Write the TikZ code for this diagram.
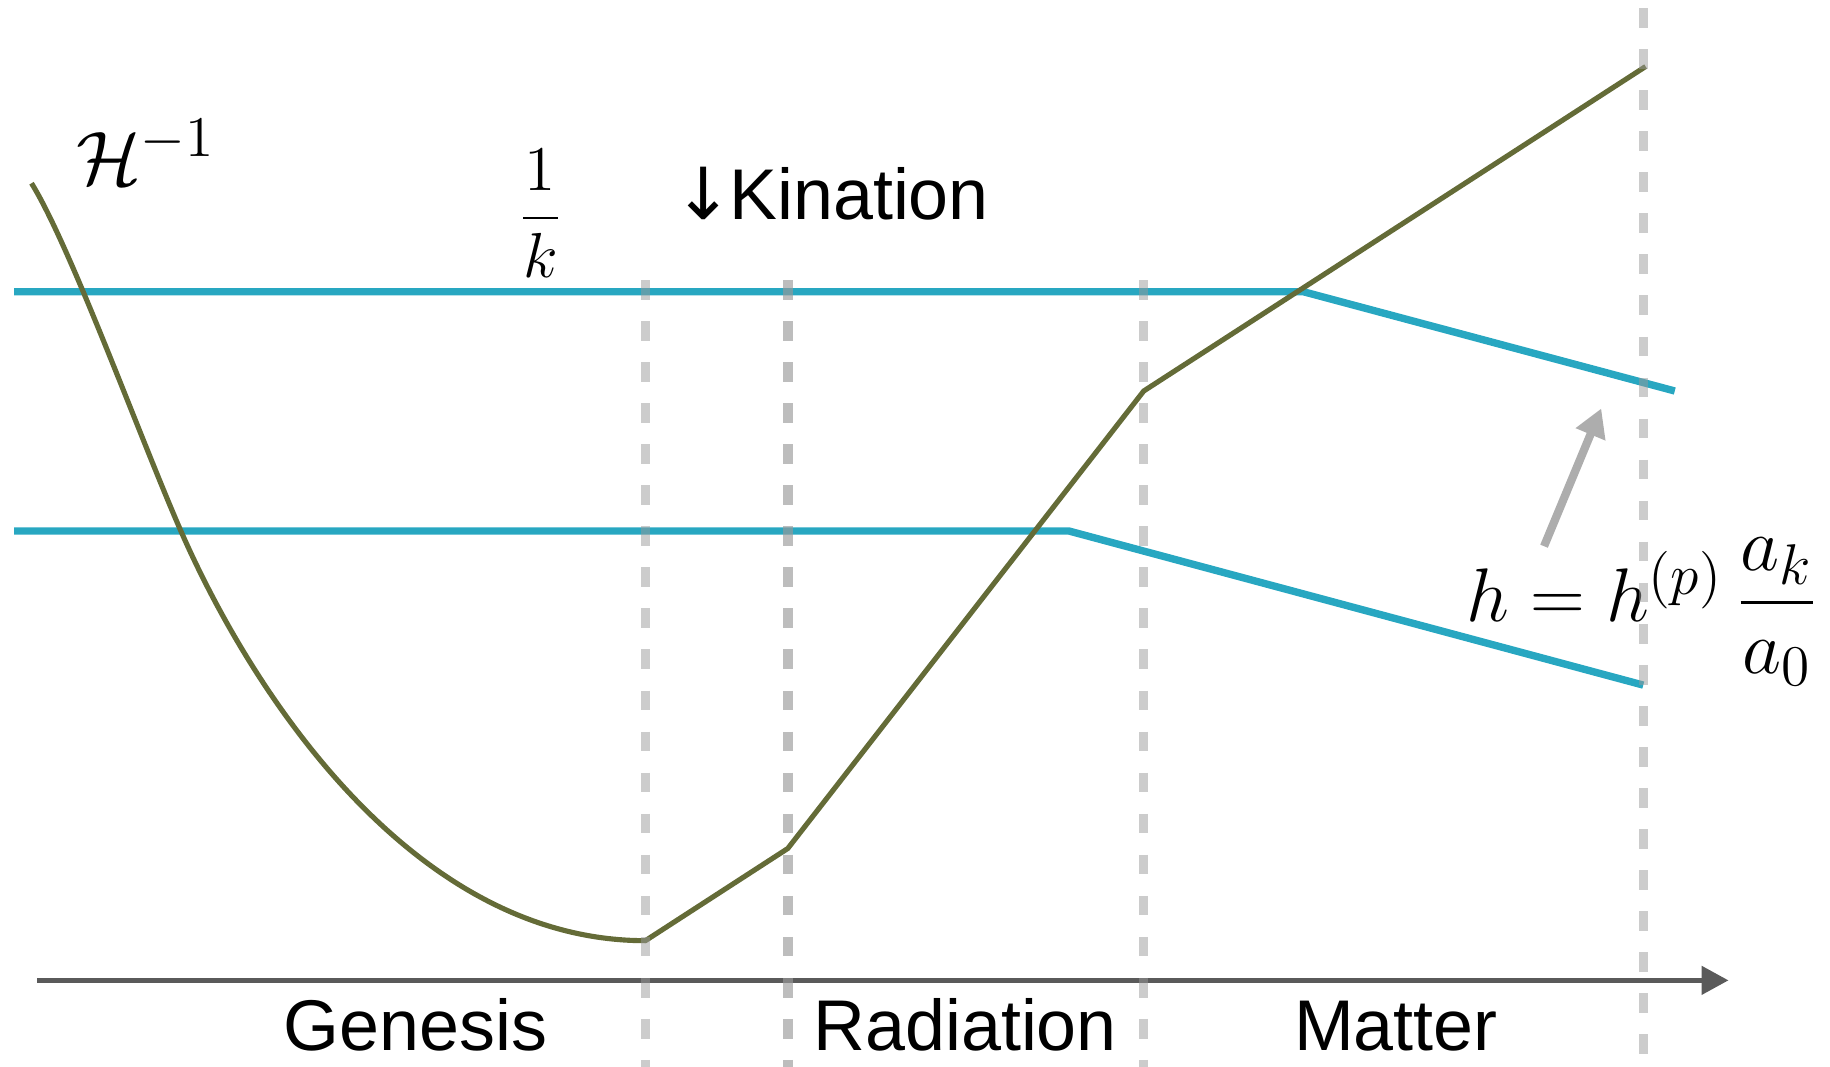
\documentclass[tikz,border=0pt]{standalone}
\usepackage{fix-cm}
\usepackage{amsmath}
\usepackage{fontspec}
\newfontfamily\erafont{Liberation Sans}
\newfontfamily\arrowfont{DejaVu Sans}
\DeclareMathSizes{18.5}{18.5}{14}{10}
\DeclareMathSizes{15.5}{15.5}{11}{8}
\usetikzlibrary{arrows.meta}
\definecolor{hubblegreen}{HTML}{646B37}
\definecolor{modeblue}{HTML}{28A7C1}
\definecolor{axisgray}{HTML}{5A5A5A}
\definecolor{pointergray}{HTML}{ADADAD}
\tikzset{hubble/.style={draw=hubblegreen,line width=1.25pt,line join=round},mode/.style={draw=modeblue,line width=1.8pt},epoch/.style={draw=black!40,draw opacity=.5,line width=2.3pt,dash pattern=on 4.8pt off 5.2pt},timeaxis/.style={draw=axisgray,line width=1.1pt,-{Triangle[length=.23cm,width=.24cm]}},pointer/.style={draw=pointergray,line width=2pt,-{Triangle[length=.24cm,width=.26cm]}},eralabel/.style={font=\erafont\fontsize{17.5}{20}\selectfont,inner sep=0pt},mathlabel/.style={font=\fontsize{18.5}{22}\selectfont,inner sep=0pt}}

\begin{document}
\begin{tikzpicture}[x=.01cm,y=-.01cm]
\useasboundingbox (0,0) rectangle (1568,914);
% modes
\draw[mode] (12,250)--(1117,250)--(1435,335);
\draw[mode] (12,455)--(916,455)--(1408,587);
% comoving Hubble radius
\draw[hubble] (27,157) .. controls (60,210) and (120,375) .. (155,455) .. controls (215,592) and (353,806) .. (553,806)--(675,727)--(980,335)--(1410,57);
% time axis
\coordinate (t0) at (32,840);
\coordinate (t1) at (1481,840);
\draw[timeaxis] (t0)--(t1);
\node[eralabel,anchor=base] (genesis) at (356,900) {Genesis};
\node[eralabel,anchor=base] (radiation) at (827,900) {Radiation};
\node[eralabel,anchor=base] (matter) at (1196,900) {Matter};
% labels
\node[mathlabel] (hinv) at (125,130) {$\mathcal{H}^{-1}$};
\node[mathlabel,font=\fontsize{15.5}{19}\selectfont] (invk) at (463,183) {$\dfrac{1}{k}$};
\node[eralabel,anchor=base east] (kination) at (848,188) {{\arrowfont ↓}\kern-1pt Kination};
\node[mathlabel] (tensor) at (1407,524) {$h=h^{(p)}\,\dfrac{a_k}{a_0}$};
\coordinate (pbase) at (1323,468);
\coordinate (ptip) at (1372,350);
\draw[pointer] (pbase)--(ptip);
% epochs
\draw[epoch] (553,240)--(553,914);
\draw[epoch,draw opacity=.65] (675,240)--(675,914);
\draw[epoch] (980,240)--(980,914);
\draw[epoch] (1408,7)--(1408,914);
\end{tikzpicture}
\end{document}
